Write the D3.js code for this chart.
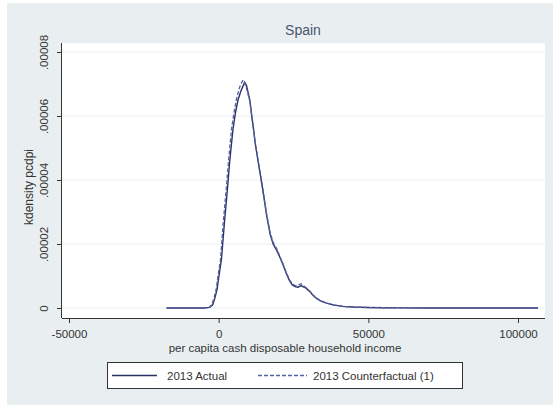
<!DOCTYPE html>
<html><head><meta charset="utf-8">
<script src="https://cdn.jsdelivr.net/npm/d3@7"></script>
<style>html,body{margin:0;padding:0;background:#fff;}svg{display:block;font-family:"Liberation Sans",Arial,sans-serif;}</style>
</head><body>
<script>
const chartTitle = "Spain";
const xTitle = "per capita cash disposable household income";
const yTitle = "kdensity pcdpi";
const xTicks = [-50000, 0, 50000, 100000];
const xTickLabels = ["-50000", "0", "50000", "100000"];
const yTicks = [0, 0.00002, 0.00004, 0.00006, 0.00008];
const yTickLabels = ["0", ".00002", ".00004", ".00006", ".00008"];
const seriesNames = ["2013 Actual", "2013 Counterfactual (1)"];

const actualX = [-17400,-10000,-5000,-3000,-2000,-1300,-500,0,900,2000,3000,3700,4800,5600,6450,7500,8200,8700,9300,10400,11200,12300,13500,14800,16000,17200,18200,19400,20400,21500,22600,23700,24600,25500,26500,27500,28300,29200,30400,31500,32700,34000,36000,38500,41500,45000,50000,55000,60000,70000,80000,90000,100000,106700];
const actualY = [0,0,0,0.02e-5,0.1e-5,0.3e-5,0.6e-5,0.95e-5,1.5e-5,2.75e-5,3.8e-5,4.6e-5,5.6e-5,6.1e-5,6.5e-5,6.8e-5,6.95e-5,7.05e-5,6.95e-5,6.5e-5,5.9e-5,5.1e-5,4.4e-5,3.65e-5,2.9e-5,2.3e-5,2.0e-5,1.8e-5,1.6e-5,1.35e-5,1.08e-5,0.85e-5,0.72e-5,0.67e-5,0.65e-5,0.7e-5,0.66e-5,0.62e-5,0.52e-5,0.4e-5,0.3e-5,0.22e-5,0.15e-5,0.09e-5,0.05e-5,0.03e-5,0.015e-5,0.008e-5,0.004e-5,0.002e-5,0.001e-5,0,0,0];
const counterX = [-17400,-10000,-5000,-3200,-2300,-1600,-800,-300,600,1600,2600,3300,4300,5200,6000,7000,7700,8200,8800,9500,10400,11200,12300,13500,14800,16000,17200,18200,19400,20400,21500,22600,23700,24600,25500,26500,27500,28300,29200,30400,31500,32700,34000,36000,38500,41500,45000,50000,55000,60000,70000,80000,90000,100000,106700];
const counterY = [0,0,0,0.02e-5,0.1e-5,0.3e-5,0.6e-5,0.95e-5,1.5e-5,2.75e-5,3.8e-5,4.6e-5,5.6e-5,6.15e-5,6.55e-5,6.9e-5,7.05e-5,7.12e-5,7.0e-5,6.8e-5,6.45e-5,5.9e-5,5.1e-5,4.45e-5,3.7e-5,2.95e-5,2.35e-5,2.05e-5,1.85e-5,1.62e-5,1.38e-5,1.1e-5,0.88e-5,0.75e-5,0.7e-5,0.72e-5,0.76e-5,0.7e-5,0.63e-5,0.53e-5,0.41e-5,0.31e-5,0.23e-5,0.16e-5,0.1e-5,0.05e-5,0.03e-5,0.015e-5,0.008e-5,0.004e-5,0.002e-5,0.001e-5,0,0,0];

const W = 558, H = 405;
const svg = d3.select("body").append("svg").attr("width", W).attr("height", H);
svg.append("rect").attr("x", 7).attr("y", 3).attr("width", 546).attr("height", 402).attr("fill", "#e9eff1");

const plot = {left: 62, right: 545, top: 43, bottom: 318};
svg.append("rect").attr("x", plot.left).attr("y", plot.top)
  .attr("width", plot.right - plot.left).attr("height", plot.bottom - plot.top).attr("fill", "#fff");

const x = d3.scaleLinear().domain([-50000, 100000]).range([69, 518]);
const y = d3.scaleLinear().domain([0, 0.00008]).range([308, 52]);

// grid
svg.append("g").selectAll("line").data(yTicks).join("line")
  .attr("x1", plot.left).attr("x2", plot.right)
  .attr("y1", d => y(d)).attr("y2", d => y(d))
  .attr("stroke", "#eaf0f2").attr("stroke-width", 1);

// axes
const gx = svg.append("g").attr("transform", `translate(0,${plot.bottom})`)
  .call(d3.axisBottom(x).tickValues(xTicks).tickFormat((d, i) => xTickLabels[i]).tickSize(5).tickSizeOuter(0));
gx.select(".domain").attr("d", `M${plot.left},0.5H${plot.right}`).attr("stroke", "#333");
gx.selectAll(".tick line").attr("stroke", "#333");
gx.selectAll(".tick text").attr("font-size", 11.5).attr("fill", "#333").attr("y", 12).attr("dy", "0.71em")
  .attr("font-family", "Liberation Sans, Arial, sans-serif");

const gy = svg.append("g").attr("transform", `translate(${plot.left},0)`)
  .call(d3.axisLeft(y).tickValues(yTicks).tickFormat((d, i) => yTickLabels[i]).tickSize(5).tickSizeOuter(0));
gy.select(".domain").attr("d", `M-0.5,${plot.top}V${plot.bottom}`).attr("stroke", "#333");
gy.selectAll(".tick line").attr("stroke", "#333");
gy.selectAll(".tick text").attr("font-size", 11.5).attr("fill", "#333")
  .attr("font-family", "Liberation Sans, Arial, sans-serif")
  .attr("text-anchor", "middle").attr("x", 0).attr("dy", 0)
  .attr("transform", "translate(-14,0) rotate(-90)");

// titles
svg.append("text").attr("x", 303).attr("y", 35).attr("text-anchor", "middle")
  .attr("font-size", 14).attr("fill", "#4a5470").text(chartTitle);
svg.append("text").attr("x", 285).attr("y", 352).attr("text-anchor", "middle")
  .attr("font-size", 11.5).attr("fill", "#333").text(xTitle);
svg.append("text").attr("transform", "translate(33,187) rotate(-90)").attr("text-anchor", "middle")
  .attr("font-size", 12).attr("fill", "#333").text(yTitle);

// lines
const line = d3.line().x(d => x(d[0])).y(d => y(d[1])).curve(d3.curveLinear);
const actual = actualX.map((v, i) => [v, actualY[i]]);
const counter = counterX.map((v, i) => [v, counterY[i]]);
svg.append("path").datum(actual).attr("d", line).attr("fill", "none")
  .attr("stroke", "#2b3262").attr("stroke-width", 1.4);
svg.append("path").datum(counter).attr("d", line).attr("fill", "none")
  .attr("stroke", "#5560a6").attr("stroke-width", 1.3).attr("stroke-dasharray", "4,2");

// legend
const lg = svg.append("g");
lg.append("rect").attr("x", 107.5).attr("y", 362.5).attr("width", 355).attr("height", 26)
  .attr("fill", "#fff").attr("stroke", "#333").attr("stroke-width", 1);
lg.append("line").attr("x1", 112).attr("x2", 157).attr("y1", 375.5).attr("y2", 375.5)
  .attr("stroke", "#2b3262").attr("stroke-width", 1.3);
lg.append("text").attr("x", 167).attr("y", 380).attr("font-size", 11.5).attr("fill", "#333").text(seriesNames[0]);
lg.append("line").attr("x1", 258).attr("x2", 307).attr("y1", 375.5).attr("y2", 375.5)
  .attr("stroke", "#5560a6").attr("stroke-width", 1.3).attr("stroke-dasharray", "4,2");
lg.append("text").attr("x", 313).attr("y", 380).attr("font-size", 11.5).attr("fill", "#333").text(seriesNames[1]);
</script>
</body></html>
